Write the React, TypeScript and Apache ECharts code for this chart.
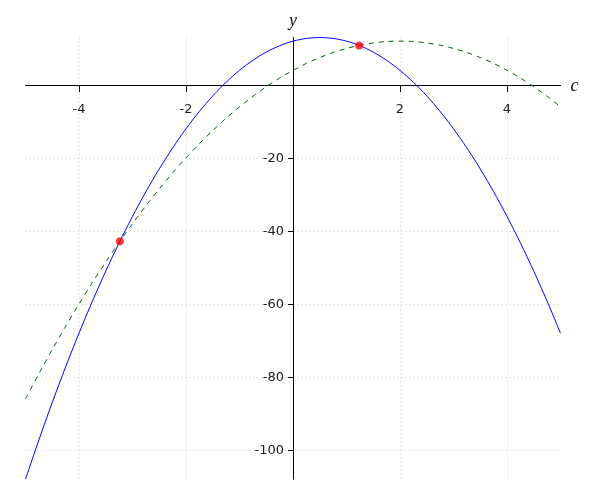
import React, { useEffect, useRef } from "react";
import * as echarts from "echarts";

const xs = [
  -5, -4.75, -4.5, -4.25, -4, -3.75, -3.5, -3.25, -3, -2.75, -2.5, -2.25, -2, -1.75, -1.5, -1.25, -1, -0.75, -0.5, -0.25,
  0, 0.25, 0.5, 0.75, 1, 1.25, 1.5, 1.75, 2, 2.25, 2.5, 2.75, 3, 3.25, 3.5, 3.75, 4, 4.25, 4.5, 4.75, 5,
];
const blueY = [
  -108, -97.25, -87, -77.25, -68, -59.25, -51, -43.25, -36, -29.25, -23, -17.25, -12, -7.25, -3, 0.75, 4, 6.75, 9, 10.75,
  12, 12.75, 13, 12.75, 12, 10.75, 9, 6.75, 4, 0.75, -3, -7.25, -12, -17.25, -23, -29.25, -36, -43.25, -51, -59.25, -68,
];
const greenY = [
  -86, -79.1, -72.5, -66.1, -60, -54.1, -48.5, -43.1, -38, -33.1, -28.5, -24.1, -20, -16.1, -12.5, -9.1, -6, -3.1, -0.5, 1.9,
  4, 5.9, 7.5, 8.9, 10, 10.9, 11.5, 11.9, 12, 11.9, 11.5, 10.9, 10, 8.9, 7.5, 5.9, 4, 1.9, -0.5, -3.1, -6,
];
const pointsX = [-3.236, 1.236];
const pointsY = [-42.83, 10.83];

const GRID_LEFT = 25.5;
const GRID_RIGHT = 39.5;
const GRID_TOP = 37.5;
const GRID_BOTTOM = 20.8;

export default function App() {
  const ref = useRef<HTMLDivElement>(null);
  useEffect(() => {
    const chart = echarts.init(ref.current!, null, { renderer: "svg" });
    const labelStyle = { fontSize: 13, fontFamily: "DejaVu Sans", color: "#222" };
    const nameStyle = { fontFamily: "Liberation Serif", fontStyle: "italic", fontSize: 18, color: "#111" };
    const fmt = (v: number) => (v === 0 ? "" : String(v));
    const plotW = 600 - GRID_LEFT - GRID_RIGHT;
    const plotH = 500 - GRID_TOP - GRID_BOTTOM;
    const xMin = -5, xMax = 5, yMin = -108, yMax = 13;
    const zeroYpx = GRID_TOP + (yMax / (yMax - yMin)) * plotH;
    const zeroXpx = GRID_LEFT + (-xMin / (xMax - xMin)) * plotW;
    const xOffset = -(500 - GRID_BOTTOM - zeroYpx);
    const yOffset = -(zeroXpx - GRID_LEFT);
    chart.setOption({
      animation: false,
      grid: { left: GRID_LEFT, right: GRID_RIGHT, top: GRID_TOP, bottom: GRID_BOTTOM, containLabel: false, outerBoundsMode: "none" },
      xAxis: {
        type: "value",
        min: xMin,
        max: xMax,
        splitNumber: 5,
        position: "bottom",
        offset: xOffset,
        name: "c",
        nameLocation: "end",
        nameGap: 10,
        nameTextStyle: { ...nameStyle, padding: [0, 0, 0, 0] },
        axisLine: { onZero: false, lineStyle: { color: "#000", width: 1 } },
        axisTick: { show: true, length: 7, lineStyle: { color: "#000" } },
        axisLabel: { ...labelStyle, margin: 17, showMinLabel: false, showMaxLabel: false, formatter: fmt },
        splitLine: { show: true, showMinLine: false, showMaxLine: false, lineStyle: { color: "#c8c8c8", type: [1, 3], width: 1 } },
      },
      yAxis: {
        type: "value",
        min: yMin,
        max: yMax,
        splitNumber: 5,
        position: "left",
        offset: yOffset,
        name: "y",
        nameLocation: "end",
        nameGap: 9,
        nameTextStyle: nameStyle,
        axisLine: { onZero: false, lineStyle: { color: "#000", width: 1 } },
        axisTick: { show: true, length: 5, lineStyle: { color: "#000" } },
        axisLabel: { ...labelStyle, margin: 9, showMinLabel: false, showMaxLabel: false, formatter: fmt },
        splitLine: { show: true, showMinLine: false, showMaxLine: false, lineStyle: { color: "#c8c8c8", type: [1, 3], width: 1 } },
      },
      series: [
        {
          type: "line",
          data: xs.map((x, i) => [x, blueY[i]]),
          smooth: 0.3,
          showSymbol: false,
          lineStyle: { color: "#0000ff", width: 1 },
          z: 3,
        },
        {
          type: "line",
          data: xs.map((x, i) => [x, greenY[i]]),
          smooth: 0.3,
          showSymbol: false,
          lineStyle: { color: "#006400", width: 1, type: [5, 5] },
          z: 2,
        },
        {
          type: "scatter",
          data: pointsX.map((x, i) => [x, pointsY[i]]),
          symbolSize: 8,
          itemStyle: { color: "#ff0000" },
          z: 4,
        },
      ],
    });
    return () => chart.dispose();
  }, []);
  return <div ref={ref} style={{ position: "fixed", left: 0, top: 0, width: 600, height: 500 }} />;
}
